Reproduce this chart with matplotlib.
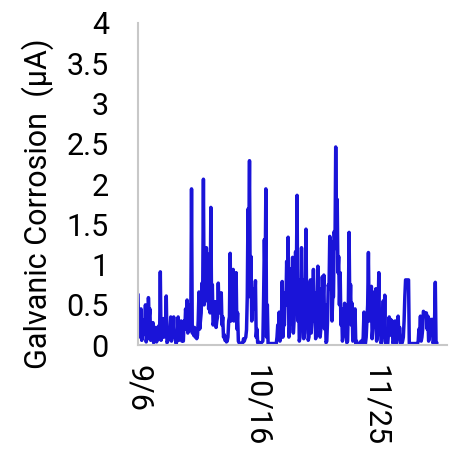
import numpy as np
import pandas as pd
import matplotlib
matplotlib.use("Agg")
import matplotlib.pyplot as plt

plt.rcParams['font.family'] = ['Roboto', 'DejaVu Sans']

# Galvanic corrosion current (uA), logged every 6 hours from 9/6.
# Readings at 00:00/12:00 and the readings taken in between.
START = "2019-09-06"
FREQ = "6h"
main_readings = [
    0.62, 0.15, 0.45, 0.12, 0.31, 0.50, 0.10, 0.59, 0.45, 0.10,
    0.28, 0.05, 0.22, 0.08, 0.24, 0.91, 0.10, 0.33, 0.18, 0.61,
    0.05, 0.20, 0.35, 0.10, 0.35, 0.16, 0.04, 0.35, 0.10, 0.30,
    0.08, 0.30, 0.45, 0.56, 0.20, 0.50, 1.94, 0.20, 0.22, 0.19,
    0.12, 0.66, 0.30, 0.77, 2.06, 0.60, 1.21, 1.13, 0.50, 1.71,
    0.75, 0.29, 0.54, 0.30, 0.77, 0.54, 0.65, 0.35, 0.13, 0.10,
    0.05, 0.30, 1.14, 0.45, 0.94, 0.50, 0.90, 0.40, 0.03, 0.02,
    0.02, 0.08, 0.08, 0.19, 1.69, 2.29, 1.10, 0.50, 0.70, 0.80,
    0.20, 0.04, 0.03, 0.03, 0.05, 1.31, 1.94, 0.50, 0.02, 0.02,
    0.02, 0.02, 0.02, 0.02, 0.25, 0.41, 0.10, 0.79, 0.30, 0.65,
    1.04, 1.34, 0.20, 0.95, 1.09, 0.30, 1.16, 1.86, 0.81, 0.10,
    1.21, 0.81, 0.15, 1.44, 0.77, 0.10, 0.81, 0.30, 0.94, 0.65,
    0.15, 0.98, 0.70, 0.20, 0.85, 0.87, 0.50, 0.05, 0.75, 1.35,
    1.29, 0.60, 1.41, 2.46, 1.81, 1.10, 0.90, 0.45, 0.10, 0.52,
    0.30, 0.05, 1.40, 0.75, 0.52, 0.10, 0.45, 0.05, 0.02, 0.02,
    0.05, 0.02, 0.41, 0.02, 0.30, 1.15, 0.55, 0.73, 0.20, 0.66,
    0.70, 0.10, 0.90, 0.41, 0.05, 0.55, 0.62, 0.02, 0.02, 0.35,
    0.32, 0.30, 0.05, 0.30, 0.05, 0.36, 0.22, 0.05, 0.05, 0.30,
    0.81, 0.81, 0.81, 0.02, 0.02, 0.02, 0.02, 0.02, 0.02, 0.20,
    0.36, 0.10, 0.42, 0.40, 0.40, 0.36, 0.10, 0.32, 0.32, 0.05,
    0.78, 0.02,
]
between_readings = [
    0.10, 0.12, 0.06, 0.14, 0.22, 0.04, 0.08, 0.35, 0.06, 0.12,
    0.03, 0.10, 0.04, 0.12, 0.08, 0.06, 0.15, 0.10, 0.12, 0.03,
    0.10, 0.18, 0.05, 0.15, 0.10, 0.02, 0.12, 0.06, 0.14, 0.05,
    0.05, 0.20, 0.30, 0.15, 0.18, 0.30, 0.15, 0.12, 0.10, 0.08,
    0.30, 0.20, 0.40, 0.60, 0.50, 0.55, 0.90, 0.45, 0.40, 0.45,
    0.25, 0.30, 0.22, 0.35, 0.40, 0.45, 0.25, 0.10, 0.06, 0.04,
    0.10, 0.35, 0.30, 0.35, 0.30, 0.35, 0.20, 0.05, 0.02, 0.02,
    0.03, 0.05, 0.10, 0.60, 1.20, 0.60, 0.30, 0.45, 0.55, 0.10,
    0.03, 0.02, 0.02, 0.04, 0.60, 0.80, 0.10, 0.02, 0.02, 0.02,
    0.02, 0.02, 0.02, 0.10, 0.20, 0.05, 0.30, 0.10, 0.25, 0.50,
    0.60, 0.10, 0.40, 0.55, 0.15, 0.60, 0.80, 0.30, 0.05, 0.40,
    0.35, 0.08, 0.50, 0.35, 0.06, 0.30, 0.15, 0.45, 0.30, 0.08,
    0.45, 0.35, 0.10, 0.40, 0.55, 0.20, 0.03, 0.30, 0.70, 0.80,
    0.30, 0.60, 1.20, 1.50, 0.90, 0.50, 0.25, 0.05, 0.20, 0.12,
    0.03, 0.50, 0.40, 0.25, 0.05, 0.15, 0.02, 0.02, 0.02, 0.02,
    0.02, 0.10, 0.02, 0.10, 0.50, 0.30, 0.35, 0.08, 0.30, 0.35,
    0.05, 0.40, 0.15, 0.02, 0.25, 0.10, 0.02, 0.02, 0.15, 0.15,
    0.12, 0.02, 0.12, 0.02, 0.15, 0.10, 0.02, 0.02, 0.10, 0.60,
    0.81, 0.81, 0.02, 0.02, 0.02, 0.02, 0.02, 0.02, 0.05, 0.15,
    0.05, 0.20, 0.40, 0.38, 0.20, 0.05, 0.15, 0.30, 0.02, 0.30,
    0.02,
]
y_ticks = [0, 0.5, 1, 1.5, 2, 2.5, 3, 3.5, 4]
y_tick_labels = ['0', '0.5', '1', '1.5', '2', '2.5', '3', '3.5', '4']
tick_dates = ["2019-09-06", "2019-10-16", "2019-11-25"]
x_end = "2019-12-19"

# interleave the two reading sets into one 6-hourly series
current_uA = []
for a, b in zip(main_readings, between_readings):
    current_uA += [a, b]
current_uA += main_readings[len(between_readings):]

times = pd.date_range(START, periods=len(current_uA), freq=FREQ)

fig = plt.figure(figsize=(4.54, 4.5), dpi=100)
ax = fig.add_axes([0.304, 0.233, 0.681, 0.716])

ax.plot(times, current_uA, color='#1a14d8', linewidth=2.5)

ax.set_ylim(0, 4)
ax.set_yticks(y_ticks)
ax.set_yticklabels(y_tick_labels)
ax.set_xlim(pd.Timestamp(START), pd.Timestamp(x_end))
ticks = pd.to_datetime(tick_dates)
ax.set_xticks(ticks)
ax.set_xticklabels([f"{d.month}/{d.day}" for d in ticks], rotation=-90)

ax.tick_params(axis='y', length=0, pad=21, labelsize=22, colors='black')
ax.tick_params(axis='x', length=0, pad=14, labelsize=22, colors='black')
for lbl in ax.get_xticklabels():
    lbl.set_va('top')
    lbl.set_ha('center')

for side in ['top', 'right']:
    ax.spines[side].set_visible(False)
for side in ['left', 'bottom']:
    ax.spines[side].set_color('#c8c8c8')
    ax.spines[side].set_linewidth(1.5)

ax.set_ylabel('Galvanic Corrosion  (µA)', fontsize=22)
ax.yaxis.set_label_coords(-0.272, 0.44)

fig.savefig('out.png', dpi=100)
